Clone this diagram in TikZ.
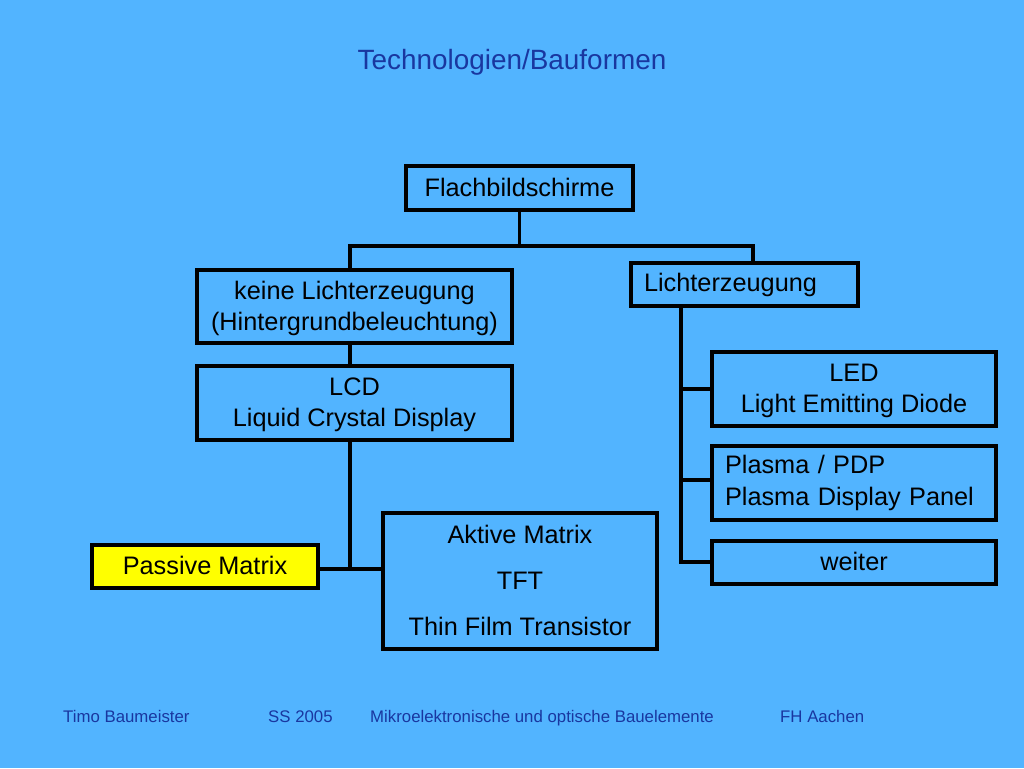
\documentclass[tikz,border=0pt]{standalone}
\usepackage{fontspec}
\setmainfont{Liberation Sans}
\definecolor{bg}{RGB}{82,180,255}
\definecolor{ttl}{RGB}{25,55,160}
\definecolor{pm}{RGB}{255,255,0}
\begin{document}
\begin{tikzpicture}[x=1pt,y=-1pt,
 boxbase/.style={draw=black,line width=3.2pt,inner sep=0pt,font=\fontsize{25.3}{31.5}\selectfont},
 box/.style={boxbase,align=center,text depth=1.5pt},
 lbox/.style={boxbase,align=left},
 conn/.style={line width=3.2pt,draw=black},
 foot/.style={text=ttl,font=\fontsize{16.8}{20}\selectfont,anchor=base west,inner sep=0pt}]
\fill[bg] (0,0) rectangle (1024,768);
\useasboundingbox (0,0) rectangle (1024,768);

\node[text=ttl,font=\fontsize{27.9}{32}\selectfont] (title) at (512,62) {Technologien/Bauformen};

\node[box,minimum width=227pt,minimum height=44pt] (flach) at (519.5,188) {Flachbildschirme};
\node[box,minimum width=315pt,minimum height=73pt] (keine) at (354.5,306.5) {keine Lichterzeugung\\(Hintergrundbeleuchtung)};
\node[lbox,minimum width=227pt,minimum height=43pt,text width=201pt] (licht) at (744.5,284.5) {Lichterzeugung};
\node[box,minimum width=315pt,minimum height=74pt] (lcd) at (354.5,403) {LCD\\Liquid Crystal Display};
\node[box,minimum width=284pt,minimum height=74pt] (led) at (854,389) {LED\\Light Emitting Diode};
\node[lbox,minimum width=284pt,minimum height=74pt,text width=258pt] (plasma) at (854,483) {Plasma / PDP\\Plasma Display Panel};
\node[box,minimum width=284pt,minimum height=43pt] (weiter) at (854,562.5) {weiter};
\node[box,minimum width=274pt,minimum height=136pt,font=\fontsize{25.3}{46}\selectfont] (aktiv) at (520,581) {Aktive Matrix\\TFT\\Thin Film Transistor};
\node[box,fill=pm,minimum width=226pt,minimum height=43pt] (passive) at (205,566.5) {Passive Matrix};

\coordinate (jl) at (350,246);
\coordinate (jr) at (753,246);
\coordinate (jm) at (350,569);
\coordinate (ja) at (681,389);
\coordinate (jb) at (681,480);
\coordinate (jc) at (681,562);

\draw[conn] (flach.south) -- (flach.south |- jl);
\draw[conn] (keine.north -| jl) -- (jl) -- (jr) -- (licht.north -| jr);
\draw[conn] (keine.south -| jl) -- (lcd.north -| jl);
\draw[conn] (lcd.south -| jm) -- (jm);
\draw[conn] (passive.east |- jm) -- (aktiv.west |- jm);
\draw[conn] (licht.south -| jc) -- (jc) -- (weiter.west |- jc);
\draw[conn] (ja) -- (led.west |- ja);
\draw[conn] (jb) -- (plasma.west |- jb);

\node[foot] (f1) at (63,722) {Timo Baumeister};
\node[foot] (f2) at (268,722) {SS 2005};
\node[foot] (f3) at (370,722) {Mikroelektronische und optische Bauelemente};
\node[foot] (f4) at (780,722) {FH Aachen};
\end{tikzpicture}
\end{document}
